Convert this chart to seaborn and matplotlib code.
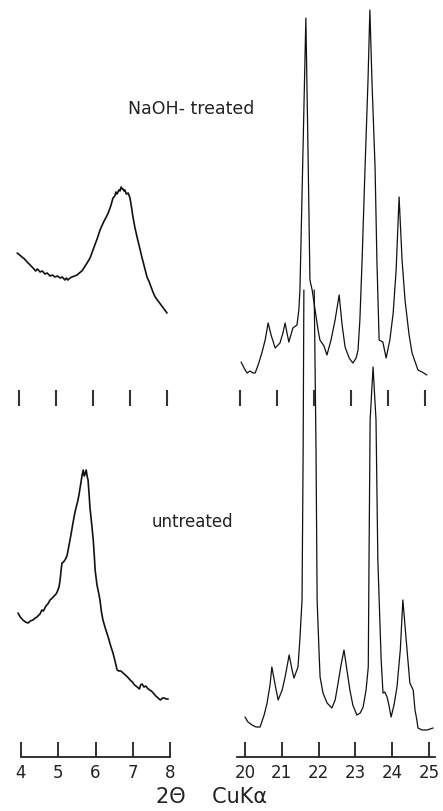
import pandas as pd
from matplotlib import pyplot as plt
import seaborn as sns

# 2-theta (deg) and relative intensity
naoh_low_2theta = [3.95, 4.02, 4.08, 4.15, 4.22, 4.30, 4.38, 4.45, 4.50, 4.57, 4.63, 4.70, 4.76, 4.84, 4.90,
                   4.97, 5.04, 5.11, 5.17, 5.24, 5.28, 5.32, 5.38, 5.43, 5.50, 5.57, 5.63, 5.70, 5.77, 5.84,
                   5.92, 5.98, 6.05, 6.12, 6.19, 6.25, 6.30, 6.36, 6.41, 6.48, 6.54, 6.59, 6.62, 6.65, 6.70,
                   6.73, 6.76, 6.79, 6.81, 6.84, 6.86, 6.90, 6.95, 7.00, 7.04, 7.08, 7.13, 7.19, 7.25, 7.32,
                   7.39, 7.46, 7.52, 7.57, 7.62, 7.68, 7.76, 7.84, 7.92, 8.00]
naoh_low_int = [124, 122, 120, 118, 115, 112, 109, 106, 108, 105, 106, 103, 104, 101, 102,
                100, 101, 99, 100, 97, 99, 97, 99, 100, 101, 102, 104, 106, 110, 114,
                119, 125, 132, 139, 147, 152, 156, 160, 164, 171, 179, 181, 185, 183, 187,
                186, 190, 188, 188, 186, 187, 183, 184, 179, 170, 160, 150, 140, 131, 120,
                110, 100, 95, 90, 85, 80, 76, 72, 68, 64]

untr_low_2theta = [3.92, 3.98, 4.05, 4.12, 4.19, 4.25, 4.32, 4.38, 4.43, 4.48, 4.51, 4.56, 4.60, 4.67, 4.72,
                   4.78, 4.84, 4.89, 4.94, 4.97, 5.02, 5.05, 5.08, 5.10, 5.14, 5.18, 5.21, 5.24, 5.29, 5.34,
                   5.40, 5.45, 5.49, 5.53, 5.56, 5.59, 5.62, 5.64, 5.67, 5.70, 5.72, 5.75, 5.78, 5.80, 5.83,
                   5.85, 5.90, 5.94, 5.97, 5.99, 6.04, 6.08, 6.12, 6.16, 6.20, 6.27, 6.34, 6.40, 6.47, 6.53,
                   6.58, 6.63, 6.68, 6.74, 6.80, 6.86, 6.93, 6.99, 7.05, 7.12, 7.18, 7.21, 7.25, 7.30, 7.35,
                   7.39, 7.45, 7.50, 7.55, 7.62, 7.68, 7.74, 7.80, 7.85, 7.90, 7.95]
untr_low_int = [144, 140, 137, 135, 134, 136, 137, 139, 140, 142, 143, 147, 146, 151, 153,
                157, 159, 161, 163, 165, 170, 177, 188, 194, 195, 197, 199, 202, 212, 222,
                235, 245, 251, 257, 263, 270, 277, 282, 287, 281, 283, 287, 280, 277, 262,
                250, 232, 217, 200, 187, 172, 165, 157, 145, 137, 128, 120, 112, 104, 95,
                87, 86, 86, 84, 82, 80, 77, 75, 72, 70, 68, 72, 73, 70, 71,
                69, 67, 66, 64, 61, 59, 57, 59, 59, 58, 58]

naoh_high_2theta = [20.03, 20.11, 20.19, 20.27, 20.35, 20.41, 20.49, 20.59, 20.68, 20.76, 20.84, 20.95, 21.08,
                    21.16, 21.22, 21.27, 21.32, 21.43, 21.54, 21.59, 21.62, 21.70, 21.78, 21.84, 21.89, 21.95,
                    22.03, 22.11, 22.16, 22.27, 22.35, 22.46, 22.57, 22.68, 22.76, 22.84, 22.95, 23.05, 23.14,
                    23.19, 23.24, 23.30, 23.38, 23.46, 23.51, 23.57, 23.65, 23.70, 23.76, 23.86, 23.95, 24.05,
                    24.14, 24.22, 24.30, 24.38, 24.46, 24.57, 24.65, 24.81, 24.92, 25.05]
naoh_high_int = [15, 9, 4, 6, 4, 4, 12, 24, 37, 54, 42, 29, 34,
                 44, 54, 44, 35, 49, 52, 67, 87, 222, 359, 222, 97, 87,
                 67, 47, 37, 31, 22, 37, 57, 82, 52, 30, 19, 14, 19,
                 27, 57, 117, 210, 297, 367, 292, 210, 117, 37, 35, 19, 37,
                 64, 107, 180, 117, 77, 42, 24, 7, 5, 2]

# untreated high-angle trace: the 22 deg reflection runs into the upper trace, drawn as two pieces
untr_high_2theta = [20.00, 20.08, 20.19, 20.30, 20.41, 20.52, 20.60, 20.68, 20.73, 20.82, 20.90, 21.01, 21.09,
                    21.20, 21.28, 21.33, 21.44, 21.49, 21.55, 21.58, 21.60,
                    21.88, 21.93, 21.96, 22.01, 22.04, 22.12, 22.23, 22.36, 22.45, 22.53, 22.61, 22.69, 22.77,
                    22.85, 22.93, 23.04, 23.13, 23.21, 23.29, 23.35, 23.37, 23.40, 23.48, 23.56, 23.61, 23.70,
                    23.75, 23.80, 23.86, 23.91, 23.97, 24.05, 24.13, 24.22, 24.29, 24.38, 24.48, 24.57, 24.62,
                    24.67, 24.70, 24.81, 24.95, 25.11]
untr_high_int = [40, 35, 32, 30, 30, 42, 54, 72, 90, 72, 57, 67, 80,
                 102, 87, 79, 90, 117, 157, 307, 467,
                 467, 307, 157, 107, 80, 64, 54, 49, 57, 74, 92, 107, 87,
                 67, 52, 42, 44, 50, 67, 90, 197, 337, 390, 337, 197, 97,
                 64, 65, 60, 52, 40, 52, 70, 107, 157, 117, 74, 67, 47,
                 37, 29, 27, 27, 29]
untr_high_piece = [0] * 21 + [1] * 44

low_ticks = [4, 5, 6, 7, 8]
high_ticks = [20, 21, 22, 23, 24, 25]

W, H = 443, 811

sns.set_style('white')
plt.rcParams['font.family'] = ['DejaVu Sans']

fig = plt.figure(figsize=(W / 100, H / 100), dpi=100)


def px_axes(x0, x1, ytop, ybot):
    return fig.add_axes([x0 / W, 1 - ybot / H, (x1 - x0) / W, (ybot - ytop) / H])


def bottom_axis(ax, ticks, bounds):
    for s in ['top', 'right', 'left']:
        ax.spines[s].set_visible(False)
    ax.spines['bottom'].set_linewidth(1.3)
    ax.spines['bottom'].set_color('#222222')
    ax.spines['bottom'].set_bounds(*bounds)
    ax.set_xticks(ticks)
    ax.set_xticklabels([str(t) for t in ticks])
    ax.tick_params(axis='x', bottom=True, direction='in', length=11, width=1.3, color='#222222',
                   labelsize=12, pad=5, labelcolor='#222222')
    ax.set_yticks([])
    ax.set_xlabel('')
    ax.set_ylabel('')


def mid_axis(ax, ticks):
    for s in ax.spines.values():
        s.set_visible(False)
    ax.patch.set_alpha(0)
    ax.set_xticks(ticks)
    ax.tick_params(axis='x', bottom=True, direction='inout', length=11, width=1.5, color='#333333',
                   labelbottom=False)
    ax.set_yticks([])
    ax.set_xlabel('')
    ax.set_ylabel('')


# lower traces (untreated)
ax_bl = px_axes(0, 200, 0, 757)
sns.lineplot(x=untr_low_2theta, y=untr_low_int, ax=ax_bl, color='#111111', lw=1.2,
             sort=False, estimator=None)
ax_bl.set_xlim(4 - 21 / 37.25, 4 + 179 / 37.25)
ax_bl.set_ylim(0, 757)
bottom_axis(ax_bl, low_ticks, (4, 8))

ax_br = px_axes(220, 443, 0, 757)
untr = pd.DataFrame({'tt': untr_high_2theta, 'I': untr_high_int, 'piece': untr_high_piece})
sns.lineplot(data=untr, x='tt', y='I', units='piece', ax=ax_br, color='#111111', lw=0.9,
             sort=False, estimator=None)
ax_br.set_xlim(20 - 25 / 36.8, 20 + 198 / 36.8)
ax_br.set_ylim(0, 757)
bottom_axis(ax_br, high_ticks, (19.78, 25.16))

# upper traces (NaOH-treated)
ax_tl = px_axes(0, 200, 0, 397.5)
sns.lineplot(x=naoh_low_2theta, y=naoh_low_int, ax=ax_tl, color='#111111', lw=1.2,
             sort=False, estimator=None)
ax_tl.set_xlim(4 - 19 / 37, 4 + 181 / 37)
ax_tl.set_ylim(377 - 397.5, 377)
mid_axis(ax_tl, low_ticks)

ax_tr = px_axes(220, 443, 0, 397.5)
sns.lineplot(x=naoh_high_2theta, y=naoh_high_int, ax=ax_tr, color='#111111', lw=0.9,
             sort=False, estimator=None)
ax_tr.set_xlim(20 - 20 / 37, 20 + 203 / 37)
ax_tr.set_ylim(377 - 397.5, 377)
mid_axis(ax_tr, high_ticks)

fig.text(128 / W, 1 - 109 / H, 'NaOH- treated', fontsize=12.5, color='#222222', ha='left', va='center')
fig.text(152 / W, 1 - 522 / H, 'untreated', fontsize=12, color='#222222', ha='left', va='center')
fig.text(212 / W, 1 - 797 / H, '2Θ    CuKα', fontsize=15, color='#222222', ha='center', va='center')

fig.savefig('out.png', dpi=100)
